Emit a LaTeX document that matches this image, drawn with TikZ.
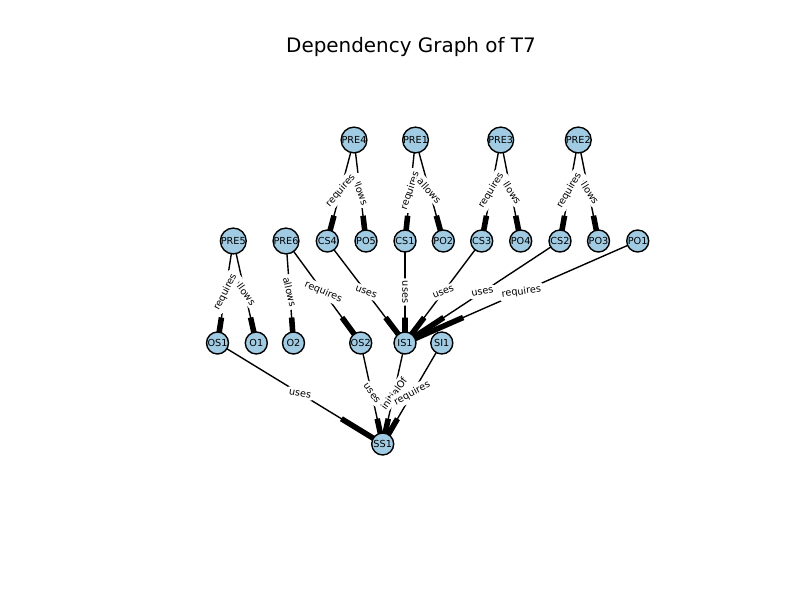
\documentclass[tikz,border=0pt]{standalone}
\usepackage{fontspec}
\setmainfont{DejaVu Sans}
\usetikzlibrary{calc}
\pgfdeclarelayer{background}
\pgfsetlayers{background,main}
\definecolor{nodeblue}{HTML}{A0CBE2}
\newcommand\depedge[2]{%
  \draw[edgeline] (#1.center) -- (#2.center);
  \draw[headline] ($(#1.center)!0.75!(#2.center)$) -- (#2.center);}
\newcommand\deplabel[3]{%
  \path let \p1=($(#2.center)-(#1.center)$),
            \n1={atan2(0.31*\y1,\x1)},
            \n2={(\n1>90) ? (\n1-180) : ((\n1<-90) ? (\n1+180) : \n1)} in
    ($(#1.center)!0.5!(#2.center)$) node[lbl,rotate=\n2] {#3};}
\begin{document}
\begin{tikzpicture}[x=0.72bp,y=-0.72bp,
  gnode/.style={circle,draw=black,line width=1bp,fill=nodeblue,minimum size=15.84bp,inner sep=0pt,font=\fontsize{7}{8}\selectfont},
  edgeline/.style={draw=black,line width=1bp},
  headline/.style={draw=black,line width=4bp},
  lbl/.style={fill=white,rounded corners=2bp,inner sep=1.8bp,font=\fontsize{7}{8}\selectfont},
  titletext/.style={font=\fontsize{14.4}{16}\selectfont,anchor=base}]
\useasboundingbox (0,0) rectangle (800,600);
\node[titletext] (title) at (411,53) {Dependency Graph of T7};
% row 1
\node[gnode] (PRE4) at (354,140) {PRE4};
\node[gnode] (PRE1) at (415.5,140) {PRE1};
\node[gnode] (PRE3) at (500.7,140) {PRE3};
\node[gnode] (PRE2) at (578.3,140) {PRE2};
% row 2
\node[gnode] (PRE5) at (233.3,241) {PRE5};
\node[gnode] (PRE6) at (286,241) {PRE6};
\node[gnode] (CS4) at (327.3,241) {CS4};
\node[gnode] (PO5) at (366,241) {PO5};
\node[gnode] (CS1) at (405,241) {CS1};
\node[gnode] (PO2) at (443.3,241) {PO2};
\node[gnode] (CS3) at (481.7,241) {CS3};
\node[gnode] (PO4) at (520.7,241) {PO4};
\node[gnode] (CS2) at (560,241) {CS2};
\node[gnode] (PO3) at (598.5,241) {PO3};
\node[gnode] (PO1) at (637.7,241) {PO1};
% row 3
\node[gnode] (OS1) at (217.5,343) {OS1};
\node[gnode] (O1) at (256.3,343) {O1};
\node[gnode] (O2) at (293.5,343) {O2};
\node[gnode] (OS2) at (360.7,343) {OS2};
\node[gnode] (IS1) at (405,343) {IS1};
\node[gnode] (SI1) at (441.8,343) {SI1};
% row 4
\node[gnode] (SS1) at (382.7,444) {SS1};
\begin{pgfonlayer}{background}
\depedge{PRE4}{CS4}\depedge{PRE4}{PO5}
\depedge{PRE1}{CS1}\depedge{PRE1}{PO2}
\depedge{PRE3}{CS3}\depedge{PRE3}{PO4}
\depedge{PRE2}{CS2}\depedge{PRE2}{PO3}
\depedge{PRE5}{OS1}\depedge{PRE5}{O1}
\depedge{PRE6}{O2}\depedge{PRE6}{OS2}
\depedge{CS4}{IS1}\depedge{CS1}{IS1}\depedge{CS3}{IS1}\depedge{CS2}{IS1}\depedge{PO1}{IS1}
\depedge{OS1}{SS1}\depedge{OS2}{SS1}\depedge{IS1}{SS1}\depedge{SI1}{SS1}
\end{pgfonlayer}
\deplabel{PRE4}{PO5}{allows}\deplabel{PRE4}{CS4}{requires}
\deplabel{PRE1}{CS1}{requires}\deplabel{PRE1}{PO2}{allows}
\deplabel{PRE3}{PO4}{allows}\deplabel{PRE3}{CS3}{requires}
\deplabel{PRE2}{PO3}{allows}\deplabel{PRE2}{CS2}{requires}
\deplabel{PRE5}{O1}{allows}\deplabel{PRE5}{OS1}{requires}
\deplabel{PRE6}{O2}{allows}\deplabel{PRE6}{OS2}{requires}
\deplabel{CS4}{IS1}{uses}\deplabel{CS1}{IS1}{uses}\deplabel{CS3}{IS1}{uses}\deplabel{CS2}{IS1}{uses}\deplabel{PO1}{IS1}{requires}
\deplabel{OS1}{SS1}{uses}\deplabel{OS2}{SS1}{uses}\deplabel{IS1}{SS1}{initialOf}\deplabel{SI1}{SS1}{requires}
\end{tikzpicture}
\end{document}
